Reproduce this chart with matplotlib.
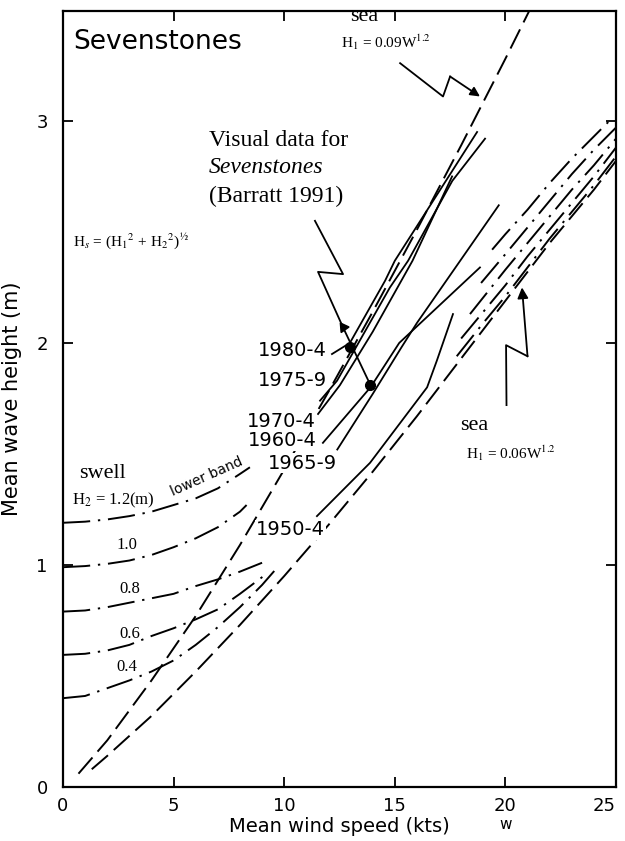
import matplotlib
matplotlib.use('Agg')
import matplotlib.pyplot as plt

plt.rcParams['mathtext.fontset'] = 'stix'

SERIF = 'Liberation Serif'
SANS = 'DejaVu Sans'

# sea curves (wind speed kts, wave height m)
sea_hi_w = [0.7, 2, 4, 6, 8, 10, 12, 14, 16, 18, 20, 21.1]
sea_hi_h = [0.06, 0.21, 0.48, 0.77, 1.09, 1.43, 1.78, 2.14, 2.51, 2.89, 3.28, 3.5]
sea_lo_w = [1.3, 2, 4, 6, 8, 10, 12, 14, 16, 18, 20, 22, 24, 25]
sea_lo_h = [0.08, 0.14, 0.32, 0.52, 0.73, 0.95, 1.18, 1.42, 1.67, 1.93, 2.19, 2.45, 2.69, 2.82]

# swell curves, low wind part
swell_names = ['1.2', '1.0', '0.8', '0.6', '0.4']
swell_left_w = [
    [0, 1, 2, 3, 4, 5, 6, 7, 8, 8.45],
    [0, 1, 2, 3, 4, 5, 6, 7, 8, 8.3],
    [0, 1, 2, 3, 4, 5, 6, 7, 8, 9],
    [0, 1, 2, 3, 4, 5, 6, 7, 8, 9.2],
    [0, 1, 2, 3, 4, 5, 6, 7, 8, 9, 9.7],
]
swell_left_h = [
    [1.19, 1.195, 1.205, 1.22, 1.24, 1.27, 1.30, 1.345, 1.41, 1.44],
    [0.99, 0.995, 1.005, 1.02, 1.045, 1.08, 1.12, 1.17, 1.24, 1.27],
    [0.79, 0.795, 0.81, 0.83, 0.85, 0.87, 0.905, 0.935, 0.97, 1.01],
    [0.595, 0.60, 0.615, 0.64, 0.68, 0.715, 0.755, 0.80, 0.87, 0.96],
    [0.40, 0.41, 0.445, 0.48, 0.52, 0.57, 0.64, 0.72, 0.81, 0.91, 0.99],
]
# swell curves, high wind part
swell_right_w = [
    [19.4, 20, 21, 22, 23, 24, 24.7],
    [18.9, 20, 21, 22, 23, 24, 25],
    [18.4, 20, 21, 22, 23, 24, 25],
    [18.0, 19, 20, 21, 22, 23, 24, 25],
    [17.8, 19, 20, 21, 22, 23, 24, 25],
]
swell_right_h = [
    [2.42, 2.49, 2.60, 2.72, 2.83, 2.93, 3.00],
    [2.27, 2.40, 2.52, 2.64, 2.76, 2.87, 2.97],
    [2.13, 2.33, 2.45, 2.57, 2.69, 2.80, 2.92],
    [2.02, 2.14, 2.26, 2.39, 2.51, 2.63, 2.75, 2.88],
    [1.94, 2.09, 2.21, 2.34, 2.47, 2.59, 2.71, 2.84],
]
swell_label_x = [None, 2.9, 3.0, 3.0, 2.9]
swell_label_y = [None, 1.09, 0.89, 0.69, 0.54]

# visual observations per period
periods = ['1980-4', '1975-9', '1970-4', '1960-4', '1965-9', '1950-4']
period_w = [
    [12.16, 12.97, 14.56, 15.0, 18.72],
    [11.62, 12.39, 14.78, 15.6, 17.6, 19.08],
    [11.53, 12.52, 14.0, 15.8, 17.59],
    [11.75, 13.9, 15.2, 18.85],
    [12.4, 14.0, 15.3, 16.0, 19.7],
    [11.48, 13.88, 16.46, 16.9, 17.63],
]
period_h = [
    [1.95, 2.00, 2.28, 2.37, 2.95],
    [1.74, 1.83, 2.25, 2.37, 2.73, 2.92],
    [1.68, 1.81, 2.05, 2.37, 2.75],
    [1.55, 1.80, 2.00, 2.34],
    [1.52, 1.77, 1.98, 2.09, 2.62],
    [1.22, 1.46, 1.80, 1.92, 2.13],
]
period_label_x = [11.93, 11.93, 11.44, 11.48, 12.39, 11.84]
period_label_y = [1.968, 1.833, 1.644, 1.559, 1.459, 1.158]

dash_sea = (0, (11, 4))
dash_swell = (0, (14, 4, 1.2, 4))

fig = plt.figure(figsize=(6.25, 8.41), dpi=100)
ax = fig.add_axes([63 / 625, 1 - 787 / 841, (616 - 63) / 625, (787 - 11) / 841])
ax.set_xlim(0, 25)
ax.set_ylim(0, 3.495)

ax.plot(sea_hi_w, sea_hi_h, color='black', lw=1.4, ls=dash_sea, zorder=2)
ax.plot(sea_lo_w, sea_lo_h, color='black', lw=1.4, ls=dash_sea, zorder=2)

for i in range(len(swell_names)):
    ax.plot(swell_left_w[i], swell_left_h[i], color='black', lw=1.4, ls=dash_swell, zorder=2)
    ax.plot(swell_right_w[i], swell_right_h[i], color='black', lw=1.4, ls=dash_swell, zorder=2)
    if swell_label_x[i] is not None:
        ax.text(swell_label_x[i], swell_label_y[i], swell_names[i], family=SERIF,
                fontsize=12, ha='center', va='center', zorder=4)

for i in range(len(periods)):
    ax.plot(period_w[i], period_h[i], color='black', lw=1.3, zorder=3)
    ax.text(period_label_x[i], period_label_y[i], periods[i], family=SANS, fontsize=14,
            ha='right', va='center', zorder=4,
            bbox=dict(facecolor='white', edgecolor='none', pad=0.5))

# marked observations and the pointer running through them
ax.plot([11.39, 12.66, 11.53, 12.66, 13.9], [2.55, 2.31, 2.32, 2.07, 1.81],
        color='black', lw=1.3, zorder=3)
ax.plot([12.66], [2.07], marker=(3, 0, 155), ms=8, color='black', zorder=5)
ax.plot([12.99, 13.9], [1.98, 1.81], 'o', ms=7, color='black', zorder=5)

# pointer to the upper sea curve
ax.plot([15.24, 17.18, 17.5], [3.26, 3.11, 3.2], color='black', lw=1.3, zorder=3)
ax.annotate('', xy=(18.85, 3.11), xytext=(17.5, 3.2),
            arrowprops=dict(arrowstyle='-|>', color='black', lw=1.3,
                            mutation_scale=14, shrinkA=0, shrinkB=0), zorder=5)
# pointer to the lower sea curve
ax.plot([20.05, 20.03, 21.0], [1.72, 1.99, 1.94], color='black', lw=1.3, zorder=3)
ax.annotate('', xy=(20.75, 2.25), xytext=(21.0, 1.94),
            arrowprops=dict(arrowstyle='-|>', color='black', lw=1.3,
                            mutation_scale=16, shrinkA=0, shrinkB=0), zorder=5)

# annotations
ax.text(0.45, 3.356, 'Sevenstones', family=SANS, fontsize=19, ha='left', va='center')
ax.text(6.6, 2.91, 'Visual data for', family=SERIF, fontsize=17, ha='left', va='center')
ax.text(6.6, 2.79, 'Sevenstones', family=SERIF, style='italic', fontsize=17,
        ha='left', va='center')
ax.text(6.6, 2.66, '(Barratt 1991)', family=SERIF, fontsize=17, ha='left', va='center')
ax.text(0.45, 2.46, r'H$_s$ = (H$_1$$^2$ + H$_2$$^2$)$^{½}$', family=SERIF, fontsize=11,
        ha='left', va='center')
ax.text(0.75, 1.41, 'swell', family=SERIF, fontsize=16, ha='left', va='center')
ax.text(0.4, 1.29, r'H$_2$ = 1.2(m)', family=SERIF, fontsize=12, ha='left', va='center')
ax.text(6.5, 1.40, 'lower band', family=SANS, fontsize=10, ha='center', va='center',
        rotation=24)
ax.text(13.6, 3.47, 'sea', family=SERIF, fontsize=16, ha='center', va='center')
ax.text(14.6, 3.356, r'H$_1$ = 0.09W$^{1.2}$', family=SERIF, fontsize=11,
        ha='center', va='center')
ax.text(18.6, 1.63, 'sea', family=SERIF, fontsize=16, ha='center', va='center')
ax.text(18.2, 1.505, r'H$_1$ = 0.06W$^{1.2}$', family=SERIF, fontsize=11,
        ha='left', va='center')
ax.text(20, -0.17, 'w', family=SANS, fontsize=11, ha='center', va='center', clip_on=False)

ax.set_xticks([0, 5, 10, 15, 20, 25])
ax.set_yticks([0, 1, 2, 3])
ax.tick_params(direction='in', length=7, width=1.3, top=True, right=True,
               labelsize=13, pad=7)
ax.tick_params(axis='y', pad=11)
for lab in ax.get_xticklabels() + ax.get_yticklabels():
    lab.set_family(SANS)
ax.get_xticklabels()[-1].set_horizontalalignment('right')
for sp in ax.spines.values():
    sp.set_linewidth(1.6)

ax.set_xlabel('Mean wind speed (kts)', family=SANS, fontsize=14, labelpad=2)
ax.set_ylabel('Mean wave height (m)', family=SANS, fontsize=15, labelpad=10)

fig.savefig('out.png', dpi=100)
